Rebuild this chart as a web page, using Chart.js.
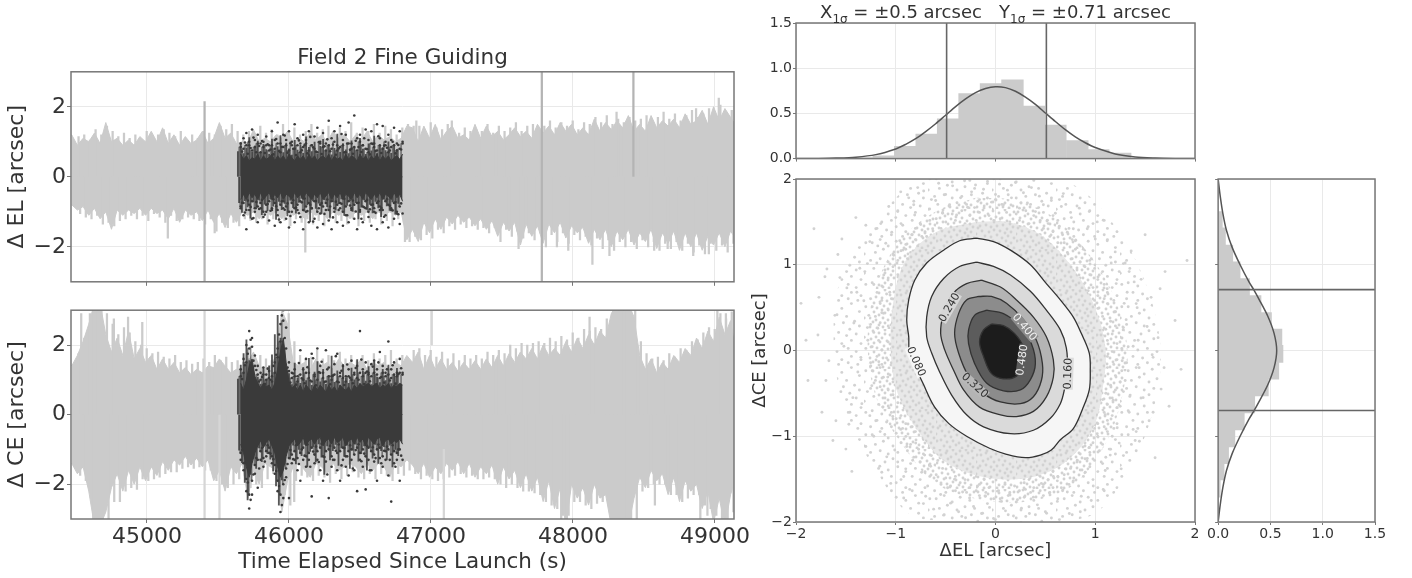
<!DOCTYPE html>
<html><head><meta charset="utf-8">
<style>
html,body{margin:0;padding:0;background:#fff;width:1412px;height:578px;overflow:hidden}
canvas{position:absolute;filter:blur(.45px)}
#rt{position:absolute;left:796px;width:399px;top:1px;text-align:center;font:18px "DejaVu Sans",sans-serif;color:#333;white-space:pre;filter:blur(.3px);z-index:5}
#rt sub{font-size:12px;line-height:0}
</style>
<script src="https://cdn.jsdelivr.net/npm/chart.js@4"></script>
</head><body>
<div id="rt">X<sub>1σ</sub> = ±0.5 arcsec   Y<sub>1σ</sub> = ±0.71 arcsec</div>
<script>
// ---------- time series ----------
const timeGrid=[44470,44510,44550,44590,44630,44670,44710,44750,44790,44830,
44870,44910,44950,44990,45030,45070,45110,45150,45190,45230,
45270,45310,45350,45390,45430,45470,45510,45550,45590,45630,
45670,45710,45750,45790,45830,45870,45910,45950,45990,46030,
46070,46110,46150,46190,46230,46270,46310,46350,46390,46430,
46470,46510,46550,46590,46630,46670,46710,46750,46790,46830,
46870,46910,46950,46990,47030,47070,47110,47150,47190,47230,
47270,47310,47350,47390,47430,47470,47510,47550,47590,47630,
47670,47710,47750,47790,47830,47870,47910,47950,47990,48030,
48070,48110,48150,48190,48230,48270,48310,48350,48390,48430,
48470,48510,48550,48590,48630,48670,48710,48750,48790,48830,
48870,48910,48950,48990,49030,49070,49110,49134];
const elHigh=[1.2,.9,1.1,1.0,1.25,.95,1.55,1.0,1.1,.9,
1.05,.9,1.15,1.0,1.3,1.0,1.4,.95,1.2,.9,
1.15,.95,1.05,1.3,.95,1.1,1.55,1.1,1.25,.95,
1.0,.95,1.35,1.0,1.1,1.0,1.2,1.1,1.3,1.0,
1.1,1.0,1.3,1.05,1.2,1.0,1.3,1.1,1.2,1.0,
1.2,1.05,1.3,1.0,1.2,1.05,1.15,1.0,1.1,1.45,
1.4,1.0,1.45,1.1,1.5,1.05,1.3,1.45,1.1,1.2,
1.05,1.5,1.1,1.45,1.15,1.3,1.05,1.2,1.4,1.15,
1.3,1.1,1.5,1.25,1.45,1.2,1.55,1.3,1.5,1.2,
1.4,1.2,1.65,1.3,1.55,1.35,1.6,1.4,1.75,1.3,
1.5,1.3,1.75,1.4,1.6,1.45,1.65,1.4,1.8,1.5,
1.6,1.9,1.5,2.0,1.6,1.95,1.7,1.55];
const elLow=[-.8,-.95,-.85,-1.1,-.9,-1.2,-1.0,-1.5,-.95,-1.1,
-.95,-1.05,-.9,-1.1,-.9,-1.05,-.95,-1.2,-.9,-1.3,
-.95,-1.1,-1.0,-1.25,-.95,-1.3,-1.05,-1.45,-1.05,-1.3,
-1.0,-1.1,-1.0,-1.2,-1.0,-1.1,-1.0,-1.2,-1.0,-1.1,
-1.0,-1.2,-1.0,-1.1,-1.0,-1.2,-1.0,-1.1,-1.0,-1.2,
-1.0,-1.1,-1.0,-1.2,-1.0,-1.1,-1.0,-1.1,-1.0,-1.8,
-1.5,-1.85,-1.3,-1.6,-1.2,-1.5,-1.15,-1.35,-1.1,-1.3,
-1.15,-1.4,-1.2,-1.5,-1.25,-1.7,-1.3,-1.55,-1.3,-1.95,
-1.35,-1.7,-1.4,-1.9,-1.35,-1.6,-1.3,-1.75,-1.4,-1.6,
-1.45,-1.9,-1.5,-1.8,-1.5,-2.0,-1.55,-1.8,-1.5,-1.95,
-1.6,-1.85,-1.5,-2.05,-1.6,-1.9,-1.55,-2.1,-1.6,-2.0,
-1.6,-2.1,-1.7,-1.95,-1.6,-2.0,-1.55,-1.7];
const peakTimes=[44490,44530,44570,44610,44650,44690,44730,44770,44810,44850,
44890,44930,44970,45010,45050,45090,45130,45170,45210,45250,
45290,45330,45370,45410,45450,45490,45530,45570,45610,45650,
45690,45730,45770,45810,45850,45890,45930,45970,46010,46050,
46090,46130,46170,46210,46250,46290,46330,46370,46410,46450,
46490,46530,46570,46610,46650,46690,46730,46770,46810,46850,
46890,46930,46970,47010,47050,47090,47130,47170,47210,47250,
47290,47330,47370,47410,47450,47490,47530,47570,47610,47650,
47690,47730,47770,47810,47850,47890,47930,47970,48010,48050,
48090,48130,48170,48210,48250,48290,48330,48370,48410,48450,
48490,48530,48570,48610,48650,48690,48730,48770,48810,48850,
48890,48930,48970,49010,49050,49090,49125];
const elUpPeaks=[1.15,1.2,1.05,1.35,1.2,1.45,1.3,1.15,1.25,1.1,
1.2,1.05,1.3,1.15,1.2,1.35,1.25,1.15,1.3,1.05,
1.2,1.1,1.3,1.25,1.2,1.45,1.35,1.5,1.3,1.2,
1.3,1.2,1.45,1.25,1.35,1.2,1.5,1.3,1.4,1.2,
1.3,1.5,1.25,1.35,1.45,1.2,1.4,1.3,1.55,1.25,
1.4,1.3,1.5,1.25,1.45,1.35,1.2,1.4,1.5,1.45,
1.45,1.3,1.55,1.4,1.35,1.5,1.3,1.25,1.4,1.3,
1.35,1.3,1.5,1.25,1.45,1.3,1.4,1.55,1.3,1.45,
1.5,1.35,1.45,1.6,1.4,1.55,1.45,1.6,1.35,1.55,
1.5,1.7,1.55,1.75,1.5,1.65,1.55,1.7,1.6,1.65,
1.75,1.6,1.7,1.85,1.65,1.8,1.6,1.75,1.9,1.7,
1.8,1.95,1.75,2.05,1.85,1.9,1.8];
const elDownPeaks=[-1.05,-1.15,-1.2,-1.1,-1.35,-1.3,-1.4,-1.25,-1.2,-1.1,
-1.2,-1.1,-1.25,-1.05,-1.15,-1.3,-1.1,-1.25,-1.2,-1.15,
-1.2,-1.25,-1.35,-1.2,-1.55,-1.3,-1.45,-1.3,-1.4,-1.2,
-1.25,-1.3,-1.2,-1.35,-1.2,-1.3,-1.25,-1.4,-1.2,-1.3,
-1.2,-1.35,-1.25,-1.4,-1.2,-1.3,-1.25,-1.35,-1.2,-1.4,
-1.25,-1.3,-1.2,-1.35,-1.25,-1.4,-1.2,-1.3,-1.85,-1.7,
-1.8,-1.65,-1.75,-1.5,-1.6,-1.4,-1.5,-1.35,-1.45,-1.4,
-1.5,-1.45,-1.6,-1.45,-1.85,-1.5,-1.7,-1.55,-1.75,-1.6,
-1.8,-1.6,-2.0,-1.65,-1.85,-1.6,-1.9,-1.65,-1.8,-1.7,
-1.95,-1.75,-2.05,-1.8,-2.1,-1.85,-2.0,-1.85,-2.05,-1.8,
-2.0,-1.85,-2.1,-1.9,-2.05,-1.85,-2.1,-1.9,-2.15,-1.95,
-2.2,-1.9,-2.1,-1.95,-2.15,-1.9,-2.0];
const elRules=[[45400,-3,2.15],[47775,-3,3],[48420,0,3]];
const elSpikes=[[45130,-1.75,0],[45460,-1.6,0],[47600,-2.05,0],[47870,-2.0,0],[48120,-2.5,0],[48240,-2.25,0],[48555,-2.1,0],[48830,-2.25,0],[49010,2.25,0],[48650,-2.05,0],[48940,-2.2,0],[47950,-2.1,0],[48290,1.85,0],[48850,1.95,0],[49125,2.0,0],[46800,-1.85,0],[46880,1.6,0],[47130,1.6,0],[46098,-2.15,0]];
const ceHigh=[1.4,1.7,2.1,2.6,3.2,3.2,2.3,1.8,2.2,1.7,
2.4,1.6,1.9,1.5,1.7,1.3,1.6,1.3,1.5,1.2,
1.35,1.15,1.3,1.2,1.4,1.35,1.6,1.4,1.2,1.3,
1.3,1.5,1.8,1.4,1.3,1.4,1.7,3,2.6,1.5,
1.4,1.5,1.3,1.6,1.4,1.5,1.3,1.6,1.4,1.5,
1.4,1.6,1.3,1.5,1.4,1.5,1.3,1.5,1.4,1.7,
1.5,1.8,1.3,1.7,1.3,1.6,1.3,1.5,1.25,1.5,
1.3,1.55,1.3,1.6,1.35,1.7,1.4,1.75,1.5,1.8,
1.6,1.9,1.6,2.0,1.7,1.9,1.7,2.1,1.8,2.2,
1.9,2.3,2.0,2.4,2.2,2.9,3.2,3.2,3.2,2.8,
1.7,1.3,1.6,1.2,1.5,1.3,1.7,1.5,1.9,1.7,
2.2,1.9,2.4,2.1,2.8,2.3,2.7,2.1];
const ceLow=[-1.4,-1.7,-1.5,-2.2,-3.2,-3.2,-2.8,-2.1,-1.7,-2.2,
-1.6,-2.0,-1.5,-1.9,-1.5,-1.75,-1.35,-1.6,-1.3,-1.45,
-1.2,-1.45,-1.25,-1.5,-1.3,-1.9,-1.6,-2.2,-1.5,-1.7,
-1.4,-2.4,-1.6,-2.0,-1.4,-1.5,-1.6,-2.8,-1.9,-1.5,
-1.4,-1.6,-1.8,-1.4,-1.5,-1.7,-1.4,-1.6,-1.5,-1.4,
-1.5,-1.7,-1.4,-1.6,-1.4,-1.5,-1.8,-1.4,-1.5,-1.3,
-1.45,-1.7,-1.4,-1.8,-1.5,-1.7,-1.4,-1.6,-1.35,-1.7,
-1.4,-1.8,-1.5,-1.7,-1.45,-2.0,-1.5,-1.85,-1.6,-2.1,
-1.7,-2.2,-1.8,-2.5,-1.9,-2.7,-2.1,-3.2,-2.0,-2.4,
-2.1,-2.6,-2.0,-2.4,-2.3,-3.2,-3.2,-3.0,-3.2,-2.4,
-1.8,-2.1,-1.6,-1.9,-1.7,-2.3,-1.8,-2.5,-1.9,-2.2,
-2.0,-2.7,-2.2,-3.1,-2.4,-3.2,-2.3,-2.0];
const ceUpPeaks=[1.75,2.2,2.9,3,3,2.9,2.6,2.3,2.5,2.35,
2.1,2.0,1.9,1.75,1.8,1.65,1.6,1.7,1.5,1.55,
1.45,1.5,1.6,1.5,1.7,1.55,1.65,1.5,1.55,1.5,
1.6,1.7,1.7,1.6,1.55,1.75,2.3,2.9,2.1,1.7,
1.6,1.65,1.85,1.6,1.7,1.55,1.8,1.6,1.7,1.55,
1.7,1.55,1.75,1.6,1.7,1.85,1.6,1.7,1.6,1.85,
1.9,1.7,1.85,1.65,1.8,1.6,1.75,1.55,1.7,1.6,
1.7,1.6,1.8,1.7,1.85,1.75,2.0,1.9,2.05,2.0,
2.05,2.1,2.05,2.2,2.1,2.25,2.15,2.35,2.2,2.45,
2.4,2.5,2.45,2.75,2.9,3,3,3,3,2.1,
1.75,1.6,1.65,1.55,1.75,1.65,1.9,1.85,2.1,2.15,
2.35,2.5,2.45,2.9,2.75,2.95,2.6];
const ceDownPeaks=[-1.75,-1.9,-2.4,-3,-3,-3,-2.5,-2.5,-2.2,-2.1,
-2.15,-1.85,-1.9,-1.85,-1.8,-1.7,-1.65,-1.65,-1.55,-1.5,
-1.55,-1.5,-1.6,-1.6,-1.9,-2.0,-2.1,-2.0,-1.85,-1.75,
-2.1,-2.0,-2.1,-1.85,-1.7,-1.9,-2.3,-2.6,-1.9,-1.75,
-1.8,-1.9,-1.75,-1.8,-1.95,-1.7,-1.85,-1.75,-1.65,-1.8,
-1.85,-1.7,-1.85,-1.7,-1.75,-1.9,-1.7,-1.75,-1.6,-1.7,
-1.85,-1.75,-1.85,-1.9,-1.85,-1.8,-1.75,-1.7,-1.8,-1.75,
-1.85,-1.85,-1.8,-1.85,-2.0,-2.1,-2.0,-2.1,-2.2,-2.2,
-2.25,-2.3,-2.5,-2.6,-2.7,-2.9,-2.9,-2.5,-2.5,-2.6,
-2.7,-2.55,-2.5,-2.6,-3,-3,-3,-3,-3,-2.2,
-2.1,-2.0,-2.0,-2.0,-2.3,-2.3,-2.5,-2.4,-2.3,-2.3,
-2.6,-2.7,-2.9,-3,-3,-2.8,-2.4];
const ceRules=[[45400,-3,3],[45505,-3,0],[47000,2,3],[47085,-3,-1]];
const ceSpikes=[[47900,-3,0],[47940,-3,0],[48560,-2.6,0],[48880,-3,0],[48930,-2.9,0],[49000,3,0],[49060,2.9,0],[44850,2.8,0],[44950,2.65,0],[44750,2.75,0],[44520,2.9,0],[44640,3,-3],[44605,3,-3],[44660,3,-3],[48345,3,-3],[48380,3,-3],[48310,3,-3],[48100,2.8,0],[46020,-2.5,0]];
const darkTimes=[45660,45680,45700,45720,45740,45760,45780,45800,45820,45840,45860,45880,45900,45920,45940,45960,45980,46000,46020,46040,46060,46080,46100,46120,46140,46160,46180,46200,46220,46240,46260,46280,46300,46320,46340,46360,46380,46400,46420,46440,46460,46480,46500,46520,46540,46560,46580,46600,46620,46640,46660,46680,46700,46720,46740,46760,46780,46800];
const darkTimes2=[45670,45690,45710,45730,45750,45770,45790,45810,45830,45850,45870,45890,45910,45930,45950,45970,45990,46010,46030,46050,46070,46090,46110,46130,46150,46170,46190,46210,46230,46250,46270,46290,46310,46330,46350,46370,46390,46410,46430,46450,46470,46490,46510,46530,46550,46570,46590,46610,46630,46650,46670,46690,46710,46730,46750,46770,46790];
const elCoreHi=[.65,.5,.6,.45,.55,.5,.65,.45,.6,.5,.55,.65,.45,.6,.5,.6,.45,.65,.55,.45,.6,.5,.6,.45,.65,.5,.6,.45,.55,.6,.5,.65,.45,.6,.5,.55,.45,.65,.5,.6,.55,.45,.65,.5,.6,.45,.6,.5,.65,.45,.6,.5,.6,.45,.55,.6,.5,.65];
const elCoreLo=[-.65,-.5,-.65,-.45,-.6,-.5,-.65,-.45,-.65,-.55,-.45,-.65,-.5,-.6,-.45,-.65,-.5,-.55,-.65,-.45,-.6,-.5,-.65,-.45,-.55,-.65,-.5,-.6,-.45,-.65,-.55,-.45,-.65,-.5,-.6,-.45,-.65,-.5,-.55,-.65,-.45,-.6,-.5,-.65,-.45,-.55,-.65,-.5,-.6,-.45,-.65,-.5,-.55,-.65,-.45,-.6,-.5,-.7];
const elDotsA=[.95,1.1,1.25,.9,1.35,1.05,1.2,.95,1.0,1.15,.9,1.3,1.05,1.55,.95,1.2,1.05,1.3,.9,1.5,1.1,.95,1.2,1.05,1.3,.9,1.15,1.4,1.0,1.25,.95,1.6,1.1,1.3,.9,1.45,1.05,1.2,1.55,.95,1.75,1.1,1.2,.9,1.35,1.05,1.3,.95,1.5,1.1,1.45,.9,1.2,1.05,1.4,.95,1.3,1.0];
const elDotsB=[.85,.8,.9,1.0,.75,.85,.95,.7,.85,.9,.75,.9,.8,.95,.7,.85,.9,.75,1.0,.8,.9,.7,.85,.95,.75,.9,.8,.7,.95,.85,.75,.9,.8,1.0,.75,.85,.9,.7,.95,.8,.85,.75,1.0,.9,.8,.7,.95,.85,.75,.9,.8,1.0,.7,.85,.9,.75,.8,.95];
const elDotsC=[-.9,-1.1,-1.5,-.95,-1.2,-1.0,-1.3,-.9,-1.15,-1.0,-1.25,-.95,-1.4,-1.1,-1.3,-.9,-1.2,-1.45,-1.0,-1.3,-.95,-1.15,-1.5,-1.0,-1.3,-.9,-1.2,-1.45,-1.05,-1.35,-.95,-1.25,-1.5,-1.0,-1.3,-.9,-1.4,-1.1,-1.3,-.95,-1.2,-1.5,-1.0,-1.3,-.9,-1.15,-1.4,-1.0,-1.5,-.95,-1.3,-1.1,-1.45,-.95,-1.2,-1.05,-1.35,-1.05];
const elDotsD=[-.85,-.75,-.95,-.8,-.7,-.9,-.85,-.75,-1.0,-.8,-.7,-.9,-.75,-.95,-.8,-.7,-.85,-1.0,-.75,-.9,-.8,-.7,-.95,-.85,-.75,-.9,-.7,-1.0,-.8,-.85,-.75,-.95,-.7,-.9,-.8,-.75,-1.0,-.85,-.7,-.9,-.8,-.75,-.95,-.85,-.7,-1.0,-.8,-.9,-.75,-.85,-.95,-.7,-.8,-.9,-.75,-1.0,-.85];
const elDotsE=[.72,.98,.66,.82,1.12,.7,.88,1.02,.68,.93,.78,.64,1.08,.74,.86,1.18,.69,.96,.8,.62,1.04,.76,.9,.67,1.14,.84,.72,.99,.65,.87,1.07,.73,.92,.63,.81,1.22,.7,.95,.77,.66,1.03,.85,.71,1.1,.79,.64,.94,.74,1.16,.68,.89,.83,.75,1.0,.67,.91,.78];
const elDotsF=[-.74,-1.02,-.68,-.86,-1.18,-.72,-.92,-.66,-1.08,-.78,-.97,-.64,-.84,-1.22,-.7,-.94,-.76,-1.12,-.67,-.88,-1.04,-.73,-.62,-.98,-.8,-1.28,-.69,-.9,-.75,-1.06,-.65,-.85,-1.16,-.71,-.95,-.77,-.63,-1.1,-.82,-.68,-.99,-.74,-1.2,-.87,-.66,-.93,-.79,-1.03,-.7,-.89,-1.14,-.64,-.83,-.96,-.72,-1.07,-.76];
const ceCoreHi=[.9,.7,1.0,1.4,1.6,1.1,.9,.75,.9,.8,.85,.7,.9,1.3,1.8,2.2,1.5,.95,.75,.85,.7,.85,.65,.85,.75,.65,.85,.7,.85,.75,.65,.85,.7,.8,.65,.85,.75,.7,.8,.65,.85,.75,.9,.8,.85,.9,.8,.85,.9,.75,.85,.8,.9,.75,.85,.8,.9,.85];
const ceCoreLo=[-.85,-1.1,-1.5,-1.8,-1.4,-1.1,-.9,-.75,-.95,-.8,-.7,-.9,-1.1,-1.5,-1.8,-1.6,-1.2,-.9,-.8,-.7,-.9,-.8,-.65,-.9,-.75,-.7,-.85,-.7,-.65,-.9,-.75,-.7,-.85,-.65,-.8,-.75,-.65,-.9,-.75,-.7,-.85,-.65,-.8,-.7,-.9,-.65,-.75,-.85,-.7,-.65,-.9,-.75,-.7,-.85,-.75,-.8,-.7,-.85];
const ceDotsA=[1.3,1.6,2.0,2.4,2.2,1.7,1.4,1.2,1.35,1.15,1.25,1.1,1.5,1.9,2.6,3.0,2.5,1.5,1.2,1.3,1.1,1.85,1.3,1.6,1.2,1.75,1.1,1.9,1.4,1.2,1.85,1.35,1.1,1.45,1.75,1.2,1.4,1.1,1.3,1.55,1.2,1.4,2.4,1.3,1.5,1.2,1.45,1.55,1.3,1.8,1.4,1.2,2.1,1.3,1.5,1.2,1.6,1.2];
const ceDotsB=[1.1,1.2,1.5,1.9,1.95,1.4,1.15,1.0,1.15,1.0,1.05,.95,1.2,1.65,2.1,2.7,1.9,1.25,1.05,1.1,.95,1.15,1.0,1.2,1.05,.95,1.15,1.0,1.2,1.05,.95,1.1,1.0,1.15,.95,1.1,1.05,.95,1.1,1.0,1.15,1.05,1.2,1.1,1.2,1.15,1.1,1.2,1.15,1.05,1.2,1.1,1.15,1.05,1.15,1.1,1.2,1.15];
const ceDotsC=[-1.3,-1.6,-2.2,-2.7,-2.3,-1.7,-2.1,-1.3,-1.5,-1.2,-1.1,-1.4,-1.7,-2.2,-2.8,-2.4,-1.8,-2.4,-1.4,-1.3,-1.6,-1.9,-1.3,-1.5,-1.3,-2.35,-1.4,-1.3,-1.6,-1.9,-1.35,-2.4,-1.5,-1.3,-1.6,-1.9,-1.3,-1.5,-1.75,-1.3,-1.6,-2.2,-1.3,-1.5,-2.15,-1.3,-1.6,-1.35,-1.9,-1.25,-1.5,-1.3,-1.75,-2.5,-1.4,-1.3,-1.9,-1.3];
const ceDotsD=[-1.1,-1.4,-1.85,-2.3,-1.9,-1.45,-1.3,-1.05,-1.25,-1.05,-.95,-1.2,-1.45,-1.9,-2.3,-2.0,-1.55,-1.25,-1.15,-1.05,-1.25,-1.1,-.95,-1.2,-1.1,-.95,-1.15,-1.05,-.95,-1.2,-1.05,-1.0,-1.2,-.95,-1.1,-1.05,-.95,-1.2,-1.05,-1.0,-1.15,-.95,-1.1,-1.0,-1.2,-.95,-1.05,-1.15,-1.0,-.95,-1.2,-1.05,-1.0,-1.15,-1.05,-1.1,-1.0];
const ceDotsE=[1.02,1.42,1.75,2.15,1.55,1.28,.95,1.08,.88,1.32,1.0,1.4,1.72,2.3,2.85,2.2,1.35,.92,1.18,.86,1.48,1.04,.9,1.36,.98,1.62,.84,1.22,1.52,.94,1.3,.87,1.12,1.68,.93,1.26,.85,1.44,1.06,.9,1.34,1.0,1.58,.88,1.24,.96,1.38,.86,1.5,1.08,.92,1.3,.98,1.42,.89,1.16,1.33];
const ceDotsF=[-1.02,-1.38,-1.95,-2.45,-1.72,-1.25,-1.55,-.96,-1.35,-.88,-1.12,-1.28,-1.62,-2.05,-2.6,-1.88,-1.42,-1.02,-1.28,-.88,-1.42,-1.0,-1.18,-.86,-1.5,-1.06,-.92,-1.36,-.84,-1.22,-1.72,-.9,-1.3,-1.04,-.86,-1.46,-.96,-1.2,-.88,-1.55,-1.02,-.85,-1.34,-1.12,-.9,-1.6,-.94,-1.25,-.86,-1.4,-1.04,-.92,-1.3,-.88,-1.5,-1.0,-1.18];
const timeTicks=[45000,46000,47000,48000,49000];
const offsetTicks=[-2,0,2];

// ---------- histograms ----------
const elBins=[-1.33,-1.12,-.905,-.69,-.475,-.26,-.045,.17,.385,.6,.82,1.03,1.25];
const elCounts=[.012,.03,.135,.27,.44,.72,.83,.87,.58,.37,.2,.1,.06];
const curveElX=[-2,-1.8,-1.6,-1.4,-1.2,-1,-.9,-.8,-.7,-.6,-.5,-.4,-.3,-.2,-.1,0,.1,.2,.3,.4,.5,.6,.7,.8,.9,1,1.2,1.4,1.6,1.8,2];
const curveElY=[0,.002,.006,.016,.044,.107,.158,.22,.298,.385,.48,.575,.66,.73,.775,.795,.785,.745,.68,.6,.505,.41,.32,.24,.175,.122,.052,.019,.007,.002,0];
const ceBins=[1.52,1.33,1.13,.935,.74,.54,.344,.152,-.04,-.235,-.43,-.63,-.826,-1.025,-1.22,-1.41,-1.61];
const ceCounts=[.04,.07,.14,.21,.3,.41,.51,.61,.62,.58,.48,.35,.25,.16,.1,.057,.02];
const curveCeY=[2,1.8,1.6,1.4,1.2,1,.8,.71,.6,.4,.2,0,-.2,-.4,-.6,-.71,-.8,-1,-1.2,-1.4,-1.6,-1.8,-2];
const curveCeX=[0,.02,.045,.08,.135,.21,.295,.34,.39,.475,.535,.56,.535,.475,.39,.34,.295,.21,.135,.08,.045,.02,0];
const sigmaX=[-.49,.51];
const sigmaY=[.71,-.7];
const histTicks=[0,.5,1,1.5];
const mainTicks=[-2,-1,0,1,2];

// ---------- contours [x,y] ----------
const level008=[[-.19,1.31],[-.36,1.28],[-.52,1.17],[-.69,1.02],[-.81,.82],[-.87,.59],[-.89,.36],[-.87,.16],[-.86,-.03],[-.72,-.4],[-.61,-.66],[-.47,-.85],[-.29,-1],[-.06,-1.14],[.11,-1.21],[.3,-1.25],[.45,-1.22],[.56,-1.16],[.65,-1.04],[.78,-.91],[.87,-.69],[.94,-.46],[.95,-.23],[.94,-.03],[.86,.2],[.78,.39],[.65,.59],[.51,.78],[.35,1],[.15,1.17],[-.02,1.27],[-.19,1.31]];
const level016=[[-.19,1.03],[-.36,.98],[-.52,.84],[-.64,.63],[-.69,.39],[-.69,.16],[-.64,-.03],[-.56,-.25],[-.44,-.52],[-.29,-.75],[-.12,-.89],[.15,-.97],[.38,-.93],[.55,-.79],[.65,-.62],[.69,-.46],[.72,-.23],[.71,.03],[.65,.24],[.51,.47],[.35,.69],[.15,.88],[-.02,.98],[-.19,1.03]];
const level024=[[-.14,.82],[-.29,.78],[-.42,.67],[-.52,.43],[-.55,.2],[-.51,.01],[-.42,-.23],[-.32,-.46],[-.16,-.66],[.05,-.75],[.21,-.77],[.38,-.71],[.51,-.54],[.58,-.31],[.58,-.11],[.51,.16],[.38,.39],[.21,.59],[.05,.74],[-.14,.82]];
const level032=[[-.17,.63],[-.29,.59],[-.37,.43],[-.41,.2],[-.37,-.03],[-.27,-.3],[-.12,-.5],[.05,-.6],[.25,-.62],[.38,-.54],[.46,-.35],[.47,-.15],[.41,.12],[.28,.36],[.11,.55],[-.04,.63],[-.17,.63]];
const level040=[[-.09,.47],[-.21,.41],[-.27,.24],[-.27,.08],[-.21,-.15],[-.09,-.38],[.08,-.47],[.25,-.46],[.35,-.34],[.4,-.15],[.36,.08],[.25,.28],[.08,.43],[-.09,.47]];
const level048=[[-.04,.31],[-.12,.24],[-.16,.1],[-.12,-.07],[-.04,-.27],[.08,-.33],[.21,-.3],[.3,-.15],[.28,.04],[.19,.2],[.08,.29],[-.04,.31]];
const contourLabels=[["0.080",-.8,-.13,66,"#333","#f6f6f6"],["0.160",.73,-.27,-88,"#333","#dcdcdc"],["0.240",-.46,.5,-60,"#333","#d6d6d6"],["0.320",-.21,-.41,42,"#333","#b8b8b8"],["0.400",.29,.27,50,"#f2f2f2","#8c8c8c"],["0.480",.27,-.11,-82,"#f2f2f2","#5c5c5c"]];
const innerCloud=[[-.2,1.5],[-.6,1.38],[-.9,1.05],[-1.02,.6],[-1.05,0],[-.98,-.5],[-.75,-.98],[-.5,-1.3],[-.1,-1.48],[.35,-1.48],[.7,-1.3],[.98,-.9],[1.08,-.4],[1.1,.05],[.98,.55],[.75,1],[.45,1.35],[.12,1.5],[-.2,1.5]];
const midCloud=[[-.2,1.78],[-.6,1.62],[-.98,1.25],[-1.22,.65],[-1.28,0],[-1.18,-.6],[-.92,-1.12],[-.6,-1.55],[-.1,-1.75],[.38,-1.75],[.8,-1.55],[1.12,-1.05],[1.28,-.48],[1.32,.05],[1.18,.65],[.9,1.18],[.55,1.58],[.15,1.76],[-.2,1.78]];
const outerCloud=[[-.2,2],[-.75,2],[-1.2,1.5],[-1.55,.85],[-1.62,0],[-1.5,-.7],[-1.2,-1.4],[-.8,-1.95],[-.1,-2],[.45,-2],[1,-1.9],[1.42,-1.2],[1.62,-.5],[1.65,.1],[1.5,.8],[1.2,1.45],[.75,1.95],[.15,2],[-.2,2]];
const cloud=[[-1.95,.55],[-1.88,-.35],[-1.82,1.42],[-1.78,.18],[-1.74,-.72],[-1.71,.86],[-1.67,-.12],[-1.63,-1.05],[-1.61,.41],[-1.58,1.12],[-1.55,-.48],[-1.52,.05],[-1.49,.73],[-1.47,-.86],[-1.44,-1.41],[-1.42,.32],[-1.4,1.55],[-1.38,-.25],[-1.36,.96],[-1.34,-.62],[-1.32,.58],[-1.3,-1.12],[-1.28,.12],[-1.26,1.27],[-1.24,-.41],[-1.22,.77],[-1.2,-.82],[-1.19,1.02],[-1.18,.26],[-1.17,-.13],[-1.16,-1.35],[-1.15,1.48],[-1.14,.44],[-1.13,-.66],[-1.12,.88],[-1.11,-.98],[-1.1,1.25],[-1.09,-1.24],[-1.08,-.31],[-1.07,1.68],[-1.06,.68],[-1.05,-1.55],[-1.04,1.38],[-1.03,-.77],[-1.02,1.11],[-1.01,-1.16],[-1,1.55],[-.98,-1.3],[-.96,1.28],[-.95,-.92],[-.93,1.46],[-.92,-1.47],[-.9,1.18],[-.89,-1.12],[-.87,1.78],[-.86,-1.62],[-.84,1.35],[-.83,-1.28],[-.81,1.58],[-.8,-1.08],[-.78,1.22],[-.77,-1.78],[-.75,1.47],[-.74,-1.42],[-.72,1.86],[-.71,-1.22],[-.69,1.33],[-.68,-1.58],[-.66,1.65],[-.65,-1.35],[-.63,1.42],[-.62,-1.85],[-.6,1.75],[-.59,-1.52],[-.57,1.95],[-.55,-1.68],[-.53,1.6],[-.52,-1.92],[-.5,1.82],[-.48,-1.6],[-.46,1.7],[-.45,-1.78],[-.43,1.92],[-.41,-1.5],[-.39,1.58],[-.37,-1.88],[-.35,1.78],[-.33,-1.65],[-.31,1.98],[-.3,-1.95],[-.28,1.67],[-.26,-1.72],[-.24,1.85],[-.22,-1.82],[-.2,1.93],[-.18,-1.58],[-.16,1.76],[-.14,-1.9],[-.12,1.88],[-.1,-1.7],[-.08,1.97],[-.06,-1.83],[-.04,1.73],[-.02,-1.96],[0,1.82],[.02,-1.64],[.04,1.94],[.06,-1.76],[.08,1.7],[.1,-1.87],[.12,1.87],[.14,-1.68],[.16,1.78],[.18,-1.93],[.2,1.96],[.22,-1.74],[.24,1.66],[.26,-1.84],[.28,1.84],[.3,-1.62],[.32,1.72],[.34,-1.9],[.36,1.9],[.38,-1.71],[.4,1.62],[.42,-1.8],[.44,1.8],[.46,-1.55],[.48,1.7],[.5,-1.88],[.52,1.52],[.54,-1.66],[.56,1.75],[.58,-1.47],[.6,1.6],[.62,-1.76],[.64,1.45],[.66,-1.6],[.68,1.83],[.7,-1.38],[.72,1.38],[.74,-1.9],[.76,1.55],[.78,-1.52],[.8,1.28],[.82,-1.28],[.84,1.66],[.86,-1.7],[.88,1.18],[.9,-1.42],[.92,1.42],[.94,-1.13],[.96,1.07],[.98,-1.58],[1,1.3],[1.02,-.97],[1.04,.88],[1.06,-1.3],[1.08,1.52],[1.1,-.75],[1.12,.72],[1.14,-1.15],[1.16,1.02],[1.18,-.58],[1.2,.45],[1.22,-.9],[1.24,.92],[1.26,-1.38],[1.28,.24],[1.3,-.35],[1.32,.68],[1.34,-.72],[1.36,1.16],[1.38,.05],[1.4,-1.05],[1.42,.5],[1.44,-.2],[1.46,.83],[1.48,-.55],[1.5,1.35],[1.52,.28],[1.54,-.82],[1.56,.62],[1.58,-.08],[1.6,-1.25],[1.63,.15],[1.66,-.45],[1.7,.92],[1.74,-.65],[1.8,.35],[1.86,-.22],[1.92,1.05],
[-1.25,-.18],[-1.27,.41],[-1.31,.92],[-1.35,-.08],[-1.39,.68],[-1.43,-.55],[-1.26,-.76],[-1.22,-1.0],[-1.18,1.22],[-1.14,-1.42],[1.27,-.12],[1.31,.36],[1.35,-.52],[1.39,.8],[1.43,.12],[1.29,.55],[1.25,-.65],[1.21,.78],[1.17,-1.0],[-.98,1.62],[-.82,1.7],[-.7,-1.7],[-.9,-1.38],[.66,1.68],[.78,1.42],[.92,-1.26],[.62,-1.52],[.72,-1.65],
[1.1,-1.4],[1.15,-1.22],[1.2,1.15],[1.24,-1.08],[1.3,1.02],[1.34,.92],[1.38,-.92],[-1.46,-.72],[-1.5,-1.15],[-1.54,1.3],[-1.7,-.35],[-1.77,.62],[-1.9,.12],[-1.2,1.42],[-1.3,1.46],[-.95,1.85],[-.78,1.9],[-.92,-1.72],[.94,1.62],[1.02,1.5],[1.12,1.28],[.85,-1.88],[.96,-1.75],[1.08,-1.62],[-1.6,-.82],[-1.69,.95],[-1.56,.85],[1.65,.72],[1.58,-.72],[1.69,-.2]];
const stippleDots=[[2,3],[7,1],[12,5],[17,2],[23,4],[29,1],[34,6],[38,3],[4,9],[9,7],[15,10],[20,8],[26,9],[31,12],[37,10],[1,14],[7,13],[12,15],[18,14],[24,13],[28,17],[34,15],[39,16],[3,19],[10,20],[15,18],[21,19],[26,21],[32,20],[37,22],[6,24],[12,25],[18,23],[23,26],[29,24],[35,26],[2,28],[8,30],[14,29],[20,31],[27,29],[32,31],[38,29],[5,34],[11,35],[17,33],[23,36],[29,34],[35,36],[1,38],[8,39],[14,38],[21,39],[27,38],[33,39]];

function dataPairs(xs,ys){return xs.map((x,i)=>({x,y:ys[i]}));}
function pairs(list){return list.map(p=>({x:p[0],y:p[1]}));}
const FONT='"DejaVu Sans", sans-serif', INK='#333333', GRAY='#cbcbcb', DARK='#3a3a3a', GRID='#e9e9e9', SPINE='#777777';
const minus=v=>String(v).replace('-','−');

const frame={id:'frame',afterDraw(c){const a=c.chartArea,x=c.ctx;x.save();x.strokeStyle=SPINE;x.lineWidth=1.5;x.strokeRect(a.left,a.top,a.right-a.left,a.bottom-a.top);x.restore();}};
const contourText={id:'contourText',afterDraw(c){if(!c.options.plugins.contourText||!c.options.plugins.contourText.on)return;const x=c.ctx;
  contourLabels.forEach(l=>{x.save();x.translate(c.scales.x.getPixelForValue(l[1]),c.scales.y.getPixelForValue(l[2]));x.rotate(l[3]*Math.PI/180);
  x.fillStyle=l[5];x.fillRect(-16,-5,32,10);x.font='11px '+FONT;x.textAlign='center';x.textBaseline='middle';x.fillStyle=l[4];x.fillText(l[0],0,0);x.restore();});}};

function axis(ticksArr,min,max,fmt,size,extra,tick,pad,hide){
  return Object.assign({type:'linear',min,max,offset:false,afterBuildTicks:s=>{s.ticks=ticksArr.map(v=>({value:v}));},
    grid:{offset:false,color:GRID,lineWidth:1,tickLength:tick||4,tickColor:SPINE,drawTicks:true},border:{display:false},
    ticks:{display:!hide,autoSkip:false,maxRotation:0,minRotation:0,color:INK,padding:pad===undefined?1:pad,font:{family:FONT,size},callback:fmt}},extra||{});
}
function panel(plot,m,cfg){
  const cv=document.createElement('canvas');
  const w=plot.r-plot.l+m.l+m.r,h=plot.b-plot.t+m.t+m.b;
  cv.width=w;cv.height=h;cv.style.left=(plot.l-m.l)+'px';cv.style.top=(plot.t-m.t)+'px';cv.style.width=w+'px';cv.style.height=h+'px';
  document.body.appendChild(cv);
  cfg.options=cfg.options||{};
  const o=cfg.options;o.responsive=false;o.animation=false;o.devicePixelRatio=1;
  o.layout={autoPadding:false,padding:{left:0,right:m.r,bottom:0,top:m.titleH?0:m.t}};
  o.plugins=Object.assign({legend:{display:false},tooltip:{enabled:false}},o.plugins||{});
  o.scales.x.afterFit=s=>{s.height=m.b;};o.scales.y.afterFit=s=>{s.width=m.l;};
  o.events=[];
  cfg.plugins=[frame,contourText];
  return new Chart(cv,cfg);
}
function timeDatasets(hi,lo,up,down,rules,ruleColor,spikes,coreHi,coreLo,a,b,c,d,e,f){
  const dot=(ts,v)=>({type:'line',data:dataPairs(ts,v),showLine:false,pointRadius:1.3,pointBackgroundColor:DARK,pointBorderWidth:0,order:1});
  const comb=(ts,v,color,w,order)=>({type:'bar',data:ts.map((t,i)=>({x:t,y:[0,v[i]]})),backgroundColor:color,barThickness:w,order});
  return [
    dot(darkTimes,a),dot(darkTimes,b),dot(darkTimes,c),dot(darkTimes,d),dot(darkTimes2,e),dot(darkTimes2,f),
    {type:'line',data:dataPairs(darkTimes,coreHi),borderColor:DARK,borderWidth:1,pointRadius:0,fill:'+1',backgroundColor:DARK,order:2},
    {type:'line',data:dataPairs(darkTimes,coreLo),borderColor:DARK,borderWidth:1,pointRadius:0,order:2},
    comb(darkTimes2,e,'rgba(58,58,58,.85)',1.2,2),comb(darkTimes2,f,'rgba(58,58,58,.85)',1.2,2),
    comb(darkTimes,b,'rgba(58,58,58,.6)',1,2),comb(darkTimes,d,'rgba(58,58,58,.6)',1,2),
    {type:'bar',data:rules.map(s=>({x:s[0],y:[s[1],s[2]]})),backgroundColor:ruleColor,barThickness:1.6,order:3},
    {type:'bar',data:spikes.map(s=>({x:s[0],y:[s[1],s[2]]})),backgroundColor:GRAY,barThickness:1.6,order:4},
    comb(peakTimes,up,GRAY,1.6,4),comb(peakTimes,down,GRAY,1.6,4),
    {type:'line',data:dataPairs(timeGrid,hi),borderColor:GRAY,borderWidth:1,pointRadius:0,fill:'+1',backgroundColor:GRAY,order:5},
    {type:'line',data:dataPairs(timeGrid,lo),borderColor:GRAY,borderWidth:1,pointRadius:0,order:5}
  ];
}
const xMin=44465,xMax=49134;
// top time panel
panel({l:71,r:734,t:72,b:286},{l:71,r:30,t:40,b:10,titleH:1},{data:{datasets:timeDatasets(elHigh,elLow,elUpPeaks,elDownPeaks,elRules,'#b4b4b4',elSpikes,elCoreHi,elCoreLo,elDotsA,elDotsB,elDotsC,elDotsD,elDotsE,elDotsF)},
 options:{plugins:{title:{display:true,fullSize:false,text:'Field 2 Fine Guiding',color:INK,font:{family:FONT,size:21.5,weight:'normal'},padding:{top:14,bottom:0}}},
 scales:{x:axis(timeTicks,xMin,xMax,()=>'',22,null,4,1,true),y:axis(offsetTicks,-3,3,minus,22,{title:{display:true,text:'Δ EL [arcsec]',color:INK,font:{family:FONT,size:22},padding:{top:4,bottom:0}}})}}});
// bottom time panel
panel({l:71,r:734,t:306,b:519},{l:71,r:30,t:10,b:59},{data:{datasets:timeDatasets(ceHigh,ceLow,ceUpPeaks,ceDownPeaks,ceRules,'#d6d6d6',ceSpikes,ceCoreHi,ceCoreLo,ceDotsA,ceDotsB,ceDotsC,ceDotsD,ceDotsE,ceDotsF)},
 options:{scales:{x:axis(timeTicks,xMin,xMax,v=>String(v),22,{title:{display:true,text:'Time Elapsed Since Launch (s)',color:INK,font:{family:FONT,size:21.5},padding:{top:0,bottom:3}}}),
 y:axis(offsetTicks,-3,3,minus,22,{title:{display:true,text:'Δ CE [arcsec]',color:INK,font:{family:FONT,size:22},padding:{top:4,bottom:0}}})}}});
// top histogram
panel({l:796,r:1195,t:23,b:160},{l:40,r:10,t:10,b:8},{data:{datasets:[
 {type:'line',data:sigmaX.flatMap(v=>[{x:v,y:0},{x:v,y:1.5},{x:NaN,y:NaN}]),borderColor:'#666',borderWidth:1.6,pointRadius:0,order:1},
 {type:'line',data:dataPairs(curveElX,curveElY),borderColor:'#555',borderWidth:1.5,pointRadius:0,tension:.3,order:2},
 {type:'bar',data:dataPairs(elBins,elCounts),backgroundColor:GRAY,barThickness:21.7,order:3}]},
 options:{scales:{x:axis([-2,-1,0,1,2],-2,2,()=>'',14,null,3,1,true),y:axis(histTicks,0,1.5,v=>v.toFixed(1),14,null,3)}}});
// main density panel
function closedLine(list,color,order){return {type:'line',data:pairs(list),borderColor:'#333',borderWidth:1.3,pointRadius:0,tension:.35,fill:'shape',backgroundColor:color,order};}
function makeStipple(size,scale,base,shift){const c=document.createElement('canvas');c.width=c.height=size;const t=c.getContext('2d');if(base){t.fillStyle=base;t.fillRect(0,0,size,size);}t.fillStyle='#d2d2d2';
 stippleDots.forEach(p=>{t.beginPath();t.arc((p[0]*scale+shift)%size,(p[1]*scale+shift)%size,1.45,0,7);t.fill();});return t.createPattern(c,'repeat');}
const areaStipple=(list,pat,order)=>({type:'line',data:pairs(list),borderWidth:0,pointRadius:0,tension:.35,fill:'shape',backgroundColor:pat,order});
panel({l:796,r:1195,t:179,b:522},{l:60,r:10,t:10,b:40},{data:{datasets:[
 closedLine(level048,'#1c1c1c',1),closedLine(level040,'#5c5c5c',2),closedLine(level032,'#8c8c8c',3),
 closedLine(level024,'#b4b4b4',4),closedLine(level016,'#dadada',5),closedLine(level008,'#f6f6f6',6),
 {type:'line',data:pairs(cloud),showLine:false,pointRadius:1.45,pointBackgroundColor:'#d2d2d2',pointBorderWidth:0,order:7},
 areaStipple(innerCloud,makeStipple(40,1,'#e8e8e8',3),8),
 areaStipple(midCloud,makeStipple(40,1,null,0),9),
 areaStipple(outerCloud,makeStipple(64,1.6,null,5),10)]},
 options:{plugins:{contourText:{on:true}},scales:{x:axis(mainTicks,-2,2,minus,14,{title:{display:true,text:'ΔEL [arcsec]',color:INK,font:{family:FONT,size:18},padding:{top:0,bottom:0}}},3),
 y:axis(mainTicks,-2,2,minus,14,{title:{display:true,text:'ΔCE [arcsec]',color:INK,font:{family:FONT,size:18},padding:{top:14,bottom:0}}},3)}}});
// right histogram
panel({l:1216,r:1375,t:179,b:522},{l:10,r:20,t:10,b:30},{data:{datasets:[
 {type:'line',data:sigmaY.flatMap(v=>[{x:0,y:v},{x:1.5,y:v},{x:NaN,y:NaN}]),borderColor:'#666',borderWidth:1.6,pointRadius:0,order:1},
 {type:'line',data:dataPairs(curveCeX,curveCeY),borderColor:'#555',borderWidth:1.5,pointRadius:0,tension:.3,order:2},
 {type:'bar',data:dataPairs(ceCounts,ceBins),backgroundColor:GRAY,barThickness:17,order:3}]},
 options:{indexAxis:'y',scales:{x:axis(histTicks,0,1.5,v=>v.toFixed(1),14,null,3),y:axis(mainTicks,-2,2,()=>'',14,null,3,1,true)}}});
</script>
</body></html>
